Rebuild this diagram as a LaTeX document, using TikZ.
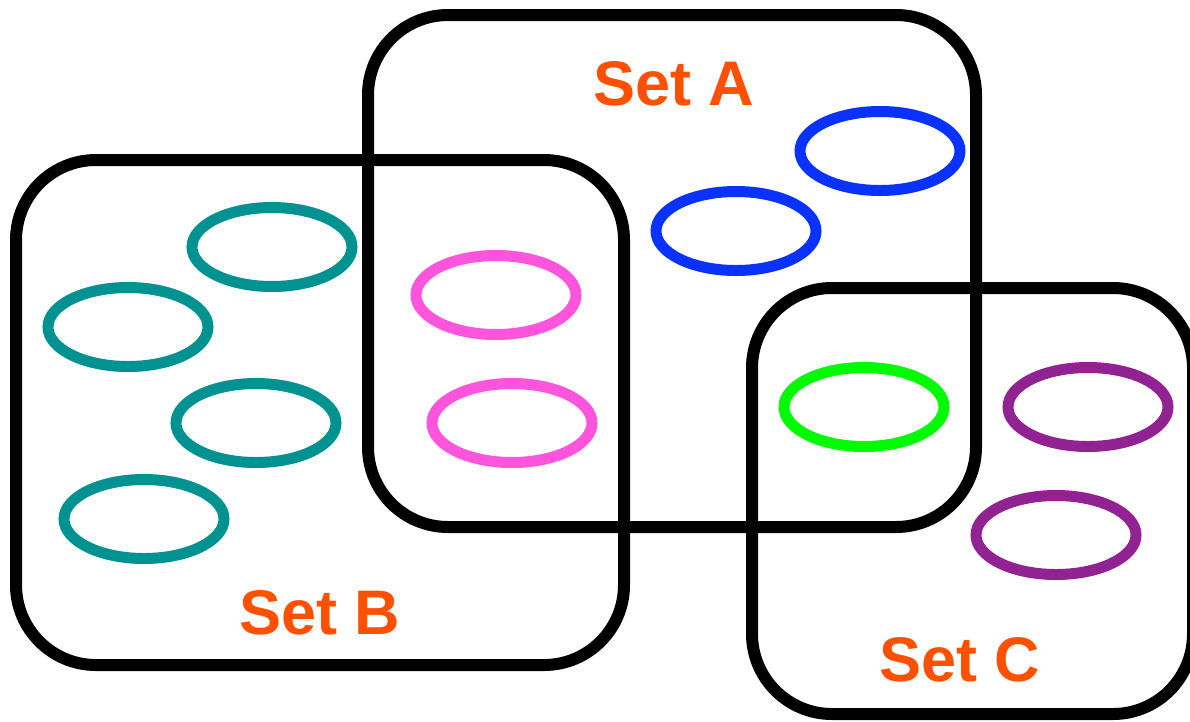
\documentclass[tikz,border=0pt]{standalone}
\usepackage{fontspec}
\setmainfont{Liberation Sans}
\definecolor{labelorange}{RGB}{255,80,0}
\definecolor{tealring}{RGB}{0,145,145}
\definecolor{pinkring}{RGB}{255,85,220}
\definecolor{bluering}{RGB}{10,50,255}
\definecolor{greenring}{RGB}{0,250,0}
\definecolor{purplering}{RGB}{145,34,145}

\begin{document}
\begin{tikzpicture}[x=1pt,y=-1pt,
  setbox/.style={line width=12pt,rounded corners=80pt},
  blob/.style={line width=11pt},
  setlabel/.style={anchor=base,inner sep=0pt,text=labelorange,
    font=\fontsize{63}{72}\selectfont\bfseries}]
\useasboundingbox (0,0) rectangle (1190,721);
\draw[setbox] (368,15) rectangle (976,527);
\draw[setbox] (16,160) rectangle (624,665);
\draw[setbox] (752,288) rectangle (1193,714);
\draw[blob,tealring] (272,247) ellipse (80 and 39.5);
\draw[blob,tealring] (128,327) ellipse (80 and 39.5);
\draw[blob,tealring] (256,423) ellipse (80 and 39.5);
\draw[blob,tealring] (144,519) ellipse (80 and 39.5);
\draw[blob,pinkring] (496,295) ellipse (80 and 39.5);
\draw[blob,pinkring] (512,423) ellipse (80 and 39.5);
\draw[blob,bluering] (880,151) ellipse (80 and 39.5);
\draw[blob,bluering] (736,231) ellipse (80 and 39.5);
\draw[blob,greenring] (864,407) ellipse (80 and 39.5);
\draw[blob,purplering] (1088,407) ellipse (80 and 39.5);
\draw[blob,purplering] (1056,535) ellipse (80 and 39.5);
\node[setlabel] (labelA) at (674,105) {Set A};
\node[setlabel] (labelB) at (320,634) {Set B};
\node[setlabel] (labelC) at (960,681) {Set C};
\end{tikzpicture}
\end{document}
